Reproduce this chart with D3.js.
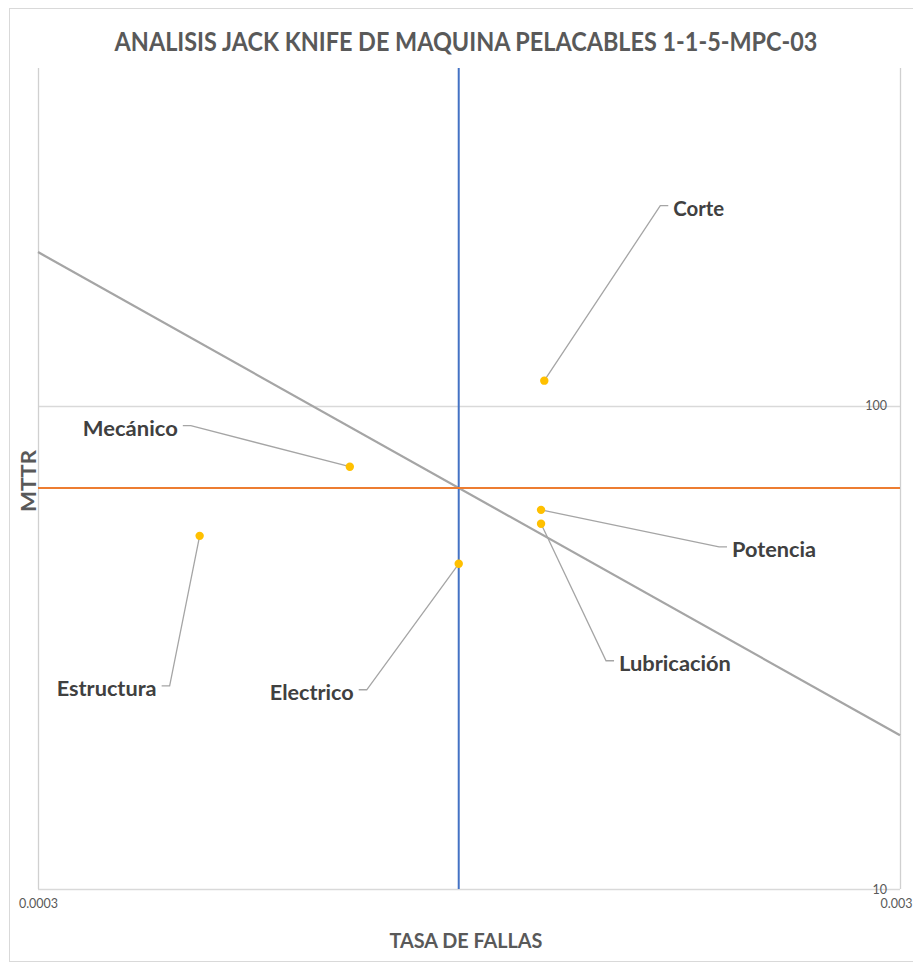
<!DOCTYPE html>
<html>
<head>
<meta charset="utf-8">
<script src="https://cdn.jsdelivr.net/npm/d3@7"></script>
<style>
  body { margin: 0; background: #fff; }
  svg { display: block; }
  text { font-family: Lato, "Open Sans", sans-serif; }
</style>
</head>
<body>
<script>
// datos
var categorias = ["Corte", "Mecánico", "Potencia", "Lubricación", "Electrico", "Estructura"];
var tasaFallas = [0.00116, 0.00069, 0.00115, 0.00115, 0.000923, 0.000462];
var mttr = [112.7, 74.8, 60.9, 57.0, 47.1, 53.8];
var limiteTasa = 0.000923;   // linea azul (promedio tasa de fallas)
var limiteMTTR = 67.6;       // linea naranja (promedio MTTR)
var xTicks = [0.0003, 0.003];
var xTickLabels = ["0.0003", "0.003"];
var yTicks = [10, 100];
var yTickLabels = ["10", "100"];

var w = 913, h = 965;
var m = {left: 38, right: 900, top: 68, bottom: 889};

// desplazamiento de las etiquetas respecto a cada punto (codo de la linea guia)
var etiq = {
  "Corte":       {dx: 116,  dy: -175, side: 1,  tw: 51},
  "Mecánico":    {dx: -159, dy: -41,  side: -1, tw: 95},
  "Potencia":    {dx: 178,  dy: 37,   side: 1,  tw: 84},
  "Lubricación": {dx: 65,   dy: 137,  side: 1,  tw: 112},
  "Electrico":   {dx: -92,  dy: 126,  side: -1, tw: 84},
  "Estructura":  {dx: -30,  dy: 150,  side: -1, tw: 100}
};

var svg = d3.select("body").append("svg").attr("width", w).attr("height", h);

// ajusta el ancho de un texto escalando solo en horizontal
function ajustar(sel, ancho, cx, cy, anchor, rot) {
  sel.each(function(){
    var t = d3.select(this);
    var len = this.getComputedTextLength();
    var k = ancho / len;
    t.attr("x", 0).attr("y", 0).attr("text-anchor", anchor)
      .attr("transform", "translate(" + cx + "," + cy + ")" + (rot ? " rotate(" + rot + ")" : "") + " scale(" + k + ",1)");
  });
}

// marco del grafico
svg.append("rect").attr("x", 9.5).attr("y", 8.5).attr("width", 930).attr("height", 953)
  .attr("fill", "none").attr("stroke", "#d9d9d9");

var x = d3.scaleLog().domain([0.0003, 0.003]).range([m.left, m.right]);
var y = d3.scaleLog().domain([10, 500]).range([m.bottom, m.top]);

// titulo
svg.append("text")
  .attr("font-size", 27).attr("font-weight", "bold").attr("fill", "#595959")
  .text("ANALISIS JACK KNIFE DE MAQUINA  PELACABLES 1-1-5-MPC-03")
  .call(ajustar, 703, 466, 51, "middle");

// lineas de cuadricula
var grid = svg.append("g");
grid.selectAll("line.h").data(yTicks).enter().append("line")
  .attr("x1", m.left).attr("x2", m.right)
  .attr("y1", function(d){ return Math.round(y(d)) + 0.5; })
  .attr("y2", function(d){ return Math.round(y(d)) + 0.5; })
  .attr("stroke", "#d9d9d9").attr("stroke-width", 1.3);
grid.selectAll("line.v").data(xTicks).enter().append("line")
  .attr("y1", m.top).attr("y2", m.bottom)
  .attr("x1", function(d){ return Math.round(x(d)) + 0.5; })
  .attr("x2", function(d){ return Math.round(x(d)) + 0.5; })
  .attr("stroke", "#d0d0d0").attr("stroke-width", 1.3);

// ejes
var xAxis = svg.append("g").attr("transform", "translate(0," + (m.bottom + 10) + ")")
  .call(d3.axisBottom(x).tickValues(xTicks).tickSize(0).tickPadding(0)
    .tickFormat(function(d, i){ return xTickLabels[i]; }));
var yAxis = svg.append("g").attr("transform", "translate(" + m.right + ",0)")
  .call(d3.axisLeft(y).tickValues(yTicks).tickSize(0).tickPadding(13)
    .tickFormat(function(d, i){ return yTickLabels[i]; }));
[xAxis, yAxis].forEach(function(a){
  a.select(".domain").remove();
  a.selectAll("text").attr("fill", "#595959").attr("font-size", 12.5)
    .attr("font-family", "'Liberation Sans', Arial, sans-serif");
});
// la ultima etiqueta del eje x queda pegada al borde derecho
xAxis.selectAll(".tick text").filter(function(d){ return d === 0.003; })
  .attr("text-anchor", "end").attr("x", 912 - m.right);

// linea de tiempo de parada constante (MTTR x tasa = K)
var K = limiteTasa * limiteMTTR;
svg.append("line")
  .attr("x1", x(0.0003)).attr("y1", y(K / 0.0003))
  .attr("x2", x(0.003)).attr("y2", y(K / 0.003))
  .attr("stroke", "#a5a5a5").attr("stroke-width", 2.25);

// limites
svg.append("line").attr("x1", x(limiteTasa)).attr("x2", x(limiteTasa))
  .attr("y1", m.top).attr("y2", m.bottom)
  .attr("stroke", "#4472c4").attr("stroke-width", 2);
svg.append("line").attr("x1", m.left).attr("x2", m.right)
  .attr("y1", y(limiteMTTR)).attr("y2", y(limiteMTTR))
  .attr("stroke", "#ed7d31").attr("stroke-width", 2);

// lineas guia y etiquetas
var pts = categorias.map(function(c, i){
  return {nombre: c, px: x(tasaFallas[i]), py: y(mttr[i]), e: etiq[c]};
});
var gl = svg.append("g");
gl.selectAll("path").data(pts).enter().append("path")
  .attr("d", function(d){
    var ex = d.px + d.e.dx, ey = d.py + d.e.dy;
    return "M" + d.px + "," + d.py + "L" + ex + "," + ey + "L" + (ex + d.e.side * 8) + "," + ey;
  })
  .attr("fill", "none").attr("stroke", "#a5a5a5").attr("stroke-width", 1.3);
gl.selectAll("text").data(pts).enter().append("text")
  .attr("font-size", 21).attr("font-weight", "bold").attr("fill", "#404040")
  .text(function(d){ return d.nombre; })
  .each(function(d){
    d3.select(this).call(ajustar, d.e.tw,
      d.px + d.e.dx + d.e.side * 13, d.py + d.e.dy + 10,
      d.e.side > 0 ? "start" : "end");
  });

// puntos
svg.append("g").selectAll("circle").data(pts).enter().append("circle")
  .attr("cx", function(d){ return d.px; }).attr("cy", function(d){ return d.py; })
  .attr("r", 4.2).attr("fill", "#ffc000");

// titulos de ejes
svg.append("text")
  .attr("font-size", 21).attr("font-weight", "bold").attr("fill", "#595959")
  .text("TASA DE FALLAS")
  .call(ajustar, 153, 466, 948, "middle");
svg.append("text")
  .attr("font-size", 21).attr("font-weight", "bold").attr("fill", "#595959")
  .text("MTTR")
  .call(ajustar, 62, 36, 481, "middle", -90);
</script>
</body>
</html>
